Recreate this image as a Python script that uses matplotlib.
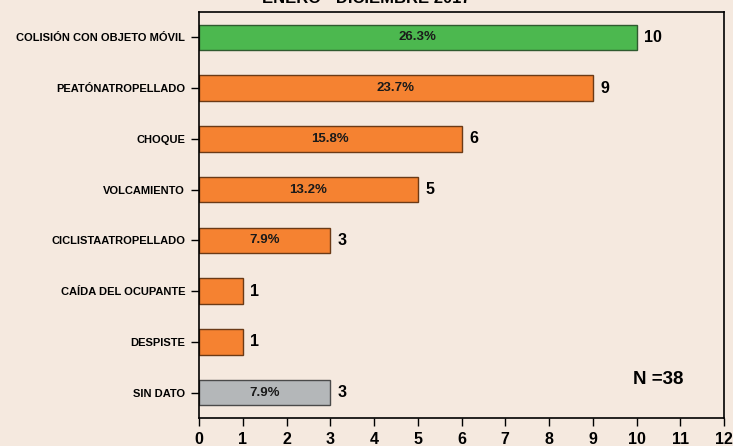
import matplotlib
matplotlib.use("Agg")
import matplotlib.pyplot as plt

plt.rcParams["font.family"] = ["Liberation Sans", "DejaVu Sans"]

categories = ["COLISIÓN CON OBJETO MÓVIL", "PEATÓNATROPELLADO", "CHOQUE", "VOLCAMIENTO",
              "CICLISTAATROPELLADO", "CAÍDA DEL OCUPANTE", "DESPISTE", "SIN DATO"]
values = [10, 9, 6, 5, 3, 1, 1, 3]
percents = ["26.3%", "23.7%", "15.8%", "13.2%", "7.9%", "", "", "7.9%"]
colors = ["#4CB84F", "#F58231", "#F58231", "#F58231", "#F58231", "#F58231", "#F58231", "#B4B7B9"]
edges = ["#2F5A2F", "#6B3A16", "#6B3A16", "#6B3A16", "#6B3A16", "#6B3A16", "#6B3A16", "#4A4A4A"]
xticks = list(range(0, 13))
total_label = "N =38"
title = "ENERO - DICIEMBRE 2017"

bg = "#F5E9DF"
fig = plt.figure(figsize=(7.33, 4.46), dpi=100, facecolor=bg)
ax = fig.add_axes([199/733, 1 - 418/446, (724-199)/733, (418-12)/446], facecolor=bg)

ypos = list(range(len(categories)))
ax.barh(ypos, values, height=0.5, color=colors, edgecolor=edges, linewidth=1.0)
ax.set_ylim(len(categories) - 0.5, -0.5)
ax.set_xlim(0, 12)
ax.set_xticks(xticks)
ax.set_xticklabels([str(t) for t in xticks], fontsize=11.5, fontweight="bold")
ax.set_yticks(ypos)
ax.set_yticklabels(categories, fontsize=8, fontweight="bold", color="#1a1a1a")
ax.tick_params(axis="both", direction="out", length=6, width=1, colors="black")
ax.tick_params(axis="y", pad=4)
ax.tick_params(axis="x", pad=4)
for s in ax.spines.values():
    s.set_linewidth(1.2)

for y, v, p in zip(ypos, values, percents):
    ax.text(v + 0.17, y, str(v), va="center", ha="left", fontsize=11.5, fontweight="bold")
    if p:
        ax.text(v / 2, y, p, va="center", ha="center", fontsize=9.5, fontweight="bold", color="#1a1a1a")

ax.text(10.49, 6.75, total_label, fontsize=13.5, fontweight="bold", va="center", ha="center")
fig.text(0.5, 1.003, title, fontsize=12, fontweight="bold", ha="center", va="center")

fig.savefig("out.png", dpi=100, facecolor=bg)
